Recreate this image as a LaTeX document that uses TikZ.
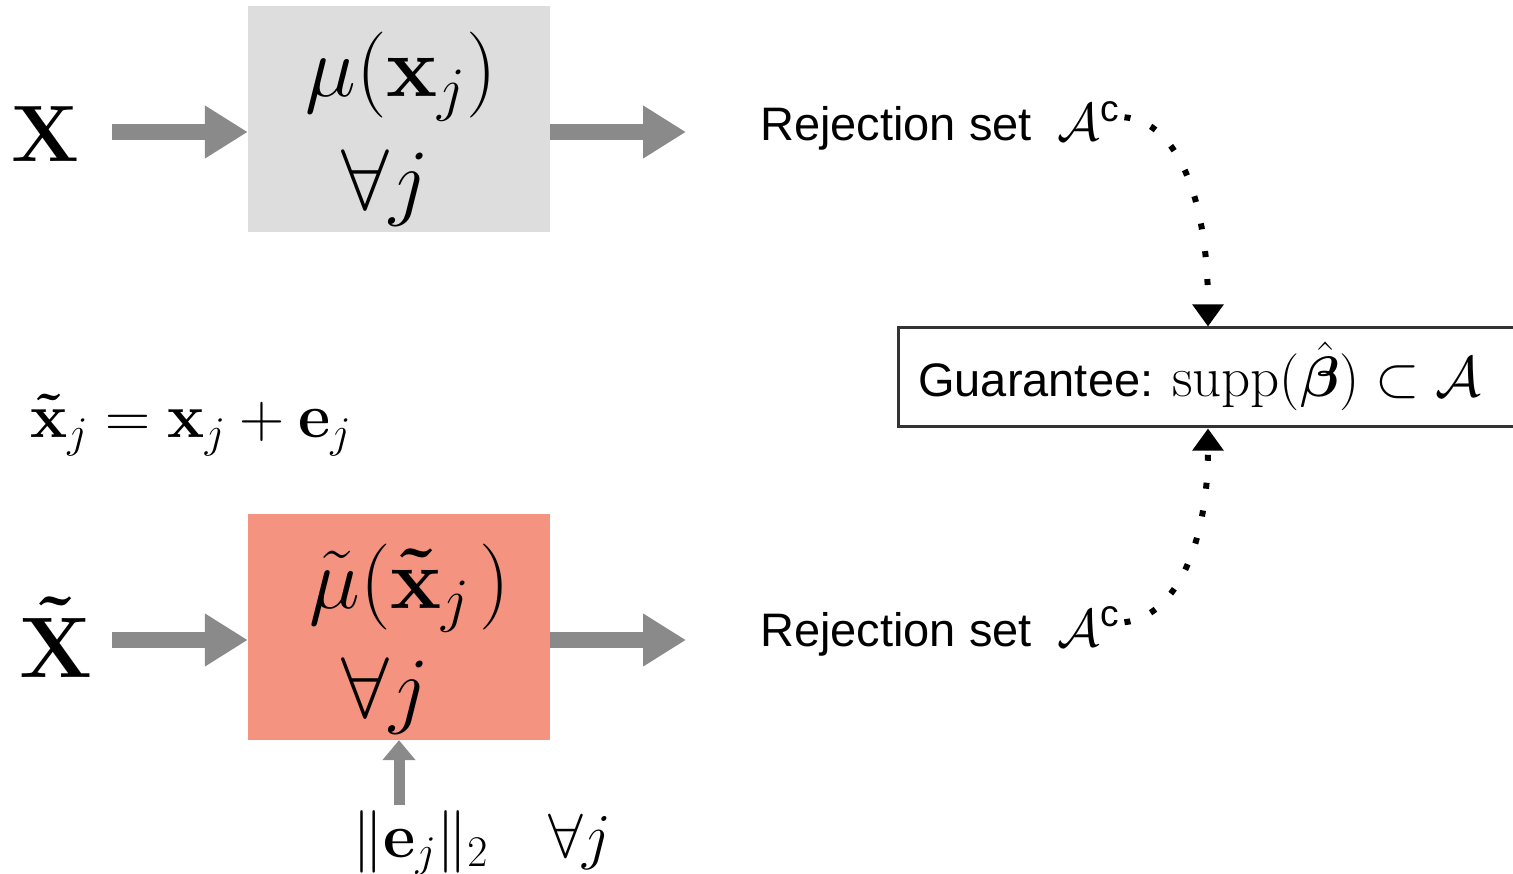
\RequirePackage{fix-cm}
\documentclass[tikz,border=0pt]{standalone}
\usepackage{amsmath,bm}
\usepackage[no-math]{fontspec}
\newfontfamily\arial{Liberation Sans}
\usetikzlibrary{arrows.meta}
\definecolor{boxgray}{HTML}{DDDDDD}
\definecolor{salmon}{HTML}{F4937F}
\definecolor{arrowgray}{HTML}{8A8A8A}
\definecolor{gborder}{HTML}{333333}
\newcommand\sftext[1]{{\fontsize{47}{56}\selectfont\arial #1}}
\begin{document}
\begin{tikzpicture}[x=1pt,y=-1pt,
  blockbox/.style={minimum width=302pt, minimum height=226pt, inner sep=0pt, draw=none},
  bigarrow/.style={draw=arrowgray, line width=16pt, -{Triangle[length=43pt,width=50pt]}},
  smallarrow/.style={draw=arrowgray, line width=11pt, -{Triangle[length=20pt,width=32pt]}},
  dotline/.style={line width=6pt, dash pattern=on 6pt off 22pt, -{Triangle[length=22pt,width=30pt]}},
  bigX/.style={font=\fontsize{80}{94}\selectfont, inner sep=0pt},
  bigXt/.style={font=\fontsize{86}{100}\selectfont, inner sep=0pt},
  mathL/.style={font=\fontsize{86}{100}\selectfont, inner sep=0pt},
  eqtext/.style={font=\fontsize{62.5}{74}\selectfont, inner sep=0pt},
  rtext/.style={font=\fontsize{53}{60}\selectfont, inner sep=0pt},
  gtext/.style={font=\fontsize{57}{66}\selectfont, inner sep=0pt},
  gbox/.style={draw=gborder, line width=3pt, minimum width=620pt, minimum height=99pt, inner sep=0pt}
]
\useasboundingbox (0,0) rectangle (1513,874);

% blocks
\node[blockbox, fill=boxgray] (b1) at (399,119) {};
\node[blockbox, fill=salmon] (b2) at (399,627) {};

% left inputs
\node[bigX, anchor=base] (X) at (45,162) {$\mathbf{X}$};
\node[bigXt, anchor=base] (Xt) at (56,677) {$\mathbf{\tilde{X}}$};

% block texts
\node[mathL, anchor=base] (m1) at (401,97) {$\mu(\mathbf{x}_j)$};
\node[mathL, anchor=base] (f1) at (385,210) {$\forall j$};
\node[mathL, anchor=base] (m2) at (410,608) {$\tilde{\mu}(\mathbf{\tilde{x}}_j\mkern2mu)$};
\node[mathL, anchor=base] (f2) at (385,717) {$\forall j$};

% equation and norm
\node[eqtext, anchor=base west] (eq) at (30,438) {$\mathbf{\tilde{x}}_j = \mathbf{x}_j + \mathbf{e}_j$};
\node[eqtext, anchor=base west] (nrm) at (352,857) {$\|\mathbf{e}_j\|_2$};
\node[eqtext, anchor=base west] (fa) at (548,857) {$\forall j$};

% rejection sets
\node[rtext, anchor=base west] (r1) at (760,141) {\sftext{Rejection set}\hspace{10pt} $\mathcal{A}^{\text{\arial c}}$};
\node[rtext, anchor=base west] (r2) at (760,646) {\sftext{Rejection set}\hspace{10pt} $\mathcal{A}^{\text{\arial c}}$};

% guarantee
\node[gbox] (g) at (1208,377.5) {};
\node[gtext, anchor=base west] (gt) at (918,397) {\sftext{Guarantee:}\hspace{-4pt} $\mathrm{supp}(\hat{\bm{\beta}}) \subset \mathcal{A}$};

% gray arrows
\coordinate (a1s) at (112,132);
\draw[bigarrow] (a1s) -- (a1s -| b1.west);
\coordinate (a2e) at (686,132);
\draw[bigarrow] (a2e -| b1.east) -- (a2e);
\coordinate (a3s) at (112,640);
\draw[bigarrow] (a3s) -- (a3s -| b2.west);
\coordinate (a4e) at (686,640);
\draw[bigarrow] (a4e -| b2.east) -- (a4e);
\coordinate (a5s) at (399,805);
\draw[smallarrow] (a5s) -- (b2.south);

% dotted connectors
\coordinate (d1) at ([xshift=5pt,yshift=9pt]r1.east);
\coordinate (d2) at ([xshift=5pt,yshift=9pt]r2.east);
\draw[dotline] (d1) .. controls (1178,122) and (1208,200) .. (g.north);
\draw[dotline] (d2) .. controls (1178,616) and (1208,540) .. (g.south);
\end{tikzpicture}
\end{document}
